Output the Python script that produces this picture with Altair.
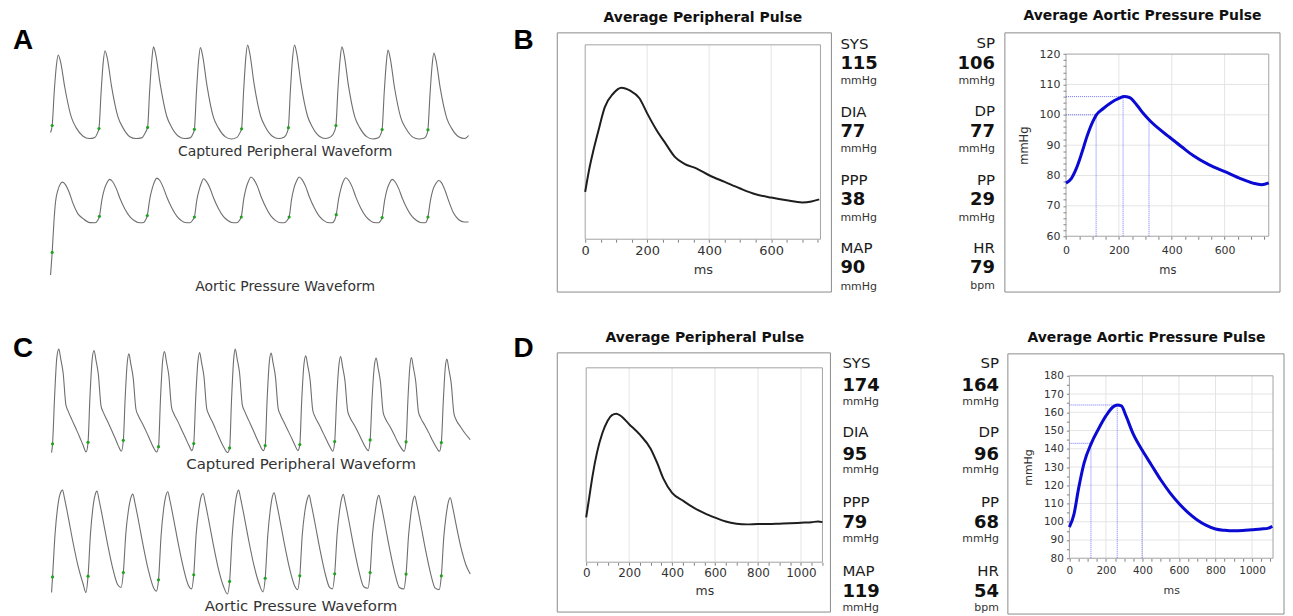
import altair as alt
import pandas as pd

W, H = 1277, 608
FONT = "DejaVu Sans"
GRID = "#e4e4e4"

# ---------------- data ----------------
# Panel A: captured peripheral waveform, (time ms, pressure mmHg)
A_PERIPHERAL = [
    (0, 79.6), (26, 82.5), (60, 97), (95, 108), (123, 112.2), (160, 109.5), (230, 98.5), (335, 86), (415, 81.5), (525, 78), (625, 77), (715, 77.5), (760, 79.5),
    (782, 81.2), (815, 96), (850, 109), (879, 114), (915, 111), (985, 99), (1090, 86), (1170, 81.5), (1280, 77.8), (1380, 77), (1470, 77.3), (1530, 79.5),
    (1567, 81.7), (1600, 97), (1635, 110), (1662, 115.6), (1698, 112.5), (1770, 100), (1875, 86.5), (1955, 81.8), (2065, 78), (2165, 77), (2255, 77.3), (2300, 79),
    (2323, 80.9), (2356, 96.5), (2391, 110), (2420, 115.3), (2455, 112), (2525, 99.5), (2630, 86), (2710, 81.5), (2820, 77.8), (2920, 76.8), (3010, 77.5), (3060, 79.5),
    (3085, 81.1), (3118, 97), (3153, 111), (3182, 116.4), (3217, 113), (3287, 100), (3392, 86.5), (3472, 81.8), (3582, 78), (3682, 77), (3772, 77.6), (3820, 79.5),
    (3841, 81.6), (3874, 97.5), (3909, 111), (3940, 116.4), (3975, 113), (4045, 100), (4150, 86.5), (4230, 81.8), (4340, 78), (4440, 77), (4530, 77.8), (4585, 80),
    (4609, 82.5), (4642, 98), (4677, 110.5), (4705, 115.6), (4740, 112.5), (4810, 99.5), (4915, 86), (4995, 81.5), (5105, 77.8), (5205, 76.8), (5295, 77.3), (5335, 79),
    (5355, 80.8), (5388, 96), (5423, 109), (5450, 114.3), (5485, 111), (5555, 98.5), (5660, 85.5), (5740, 81.2), (5850, 77.6), (5950, 76.8), (6040, 77.2), (6080, 79),
    (6095, 80.7), (6128, 95.5), (6163, 108), (6190, 113), (6225, 110), (6295, 98), (6400, 85.5), (6480, 81.2), (6590, 77.8), (6690, 77), (6751, 78.3),
]
A_PERIPHERAL_FEET = [(26, 82.5), (782, 81.2), (1567, 81.7), (2323, 80.9), (3085, 81.1),
                     (3841, 81.6), (4609, 82.5), (5355, 80.8), (6095, 80.7)]

# Panel A: aortic pressure waveform
A_AORTIC = [
    (0, 42.8), (26, 57.6), (55, 78), (80, 90.6), (120, 98.5), (160, 102.5), (193, 103.6), (240, 102), (300, 97), (364, 89.5), (440, 83), (525, 79.7), (634, 77.1), (720, 77), (760, 78.5),
    (789, 81.2), (829, 92), (869, 99), (909, 103), (955, 105.4), (1000, 104), (1060, 99.5), (1120, 93), (1200, 86), (1280, 81), (1350, 78.5), (1410, 77.2), (1490, 77), (1530, 78.5),
    (1562, 81.7), (1602, 92.5), (1642, 99.5), (1680, 104), (1716, 106.2), (1761, 104.8), (1821, 100), (1881, 93.5), (1961, 86.5), (2041, 81.2), (2111, 78.5), (2171, 77.2), (2251, 77), (2290, 78.5),
    (2323, 80.8), (2363, 92), (2403, 99), (2440, 103.5), (2468, 105.8), (2513, 104.3), (2573, 99.8), (2633, 93.2), (2713, 86.2), (2793, 81), (2863, 78.5), (2923, 77.2), (3003, 77), (3050, 78.5),
    (3080, 80.8), (3120, 92.5), (3160, 100), (3200, 104.5), (3236, 106.9), (3281, 105.4), (3341, 100.8), (3401, 94), (3481, 86.8), (3561, 81.3), (3631, 78.6), (3691, 77.2), (3771, 77), (3820, 78.5),
    (3853, 80.8), (3893, 92.5), (3933, 100), (3975, 104.5), (4014, 106.9), (4059, 105.4), (4119, 100.8), (4179, 94), (4259, 86.8), (4339, 81.3), (4409, 78.6), (4469, 77.2), (4549, 77), (4590, 78.8),
    (4614, 82.3), (4654, 93), (4694, 100), (4730, 104.3), (4766, 106.5), (4811, 105), (4871, 100.5), (4931, 93.8), (5011, 86.5), (5091, 81.2), (5161, 78.5), (5221, 77.2), (5301, 77), (5330, 78.3),
    (5355, 80.4), (5395, 91.5), (5435, 98.8), (5475, 103), (5516, 105.4), (5561, 104), (5621, 99.5), (5681, 93), (5761, 86), (5841, 81), (5911, 78.5), (5971, 77.2), (6051, 77), (6080, 78.5),
    (6095, 80.8), (6135, 91.5), (6175, 98.5), (6220, 102.5), (6268, 104.7), (6313, 103.3), (6373, 98), (6433, 91), (6513, 83), (6593, 79), (6680, 77.5), (6751, 77.5),
]
A_AORTIC_FEET = [(26, 57.6), (789, 81.2), (1562, 81.7), (2323, 80.8), (3080, 80.8),
                 (3853, 80.8), (4614, 82.3), (5355, 80.4), (6095, 80.8)]

# Panel C: captured peripheral waveform
C_PERIPHERAL = [
    (0, 95), (31, 101.9), (95, 139), (165, 170), (229, 176.9), (290, 169), (365, 158), (450, 133), (520, 128), (650, 120.5), (785, 113), (890, 107), (990, 101), (1090, 95.5),
    (1149, 103.1), (1210, 139.5), (1280, 169), (1338, 175.8), (1400, 168), (1473, 157), (1558, 132), (1628, 127), (1760, 120), (1895, 112.5), (2000, 106.5), (2100, 100.5), (2200, 96),
    (2261, 104.7), (2320, 139), (2385, 166.5), (2437, 173.2), (2497, 165), (2572, 154), (2657, 129.5), (2727, 124.5), (2860, 118), (2995, 111), (3100, 105), (3200, 99.5), (3310, 95.5),
    (3369, 99.7), (3430, 137), (3500, 168), (3558, 175), (3618, 167), (3693, 156), (3778, 131), (3848, 126), (3980, 119.5), (4115, 112), (4220, 106.5), (4320, 101), (4420, 96.5),
    (4478, 102.1), (4540, 138), (4610, 167), (4666, 174.2), (4726, 166), (4801, 155), (4886, 130), (4956, 125), (5090, 118), (5225, 110), (5330, 104), (5430, 99), (5548, 95),
    (5608, 98.7), (5670, 137.5), (5740, 170), (5787, 176.9), (5847, 169), (5922, 158), (6007, 133), (6077, 128), (6210, 120.5), (6345, 113), (6450, 107), (6550, 101.5), (6669, 96.5),
    (6729, 100.5), (6790, 137), (6860, 167), (6917, 173.8), (6977, 166), (7052, 155), (7137, 130), (7207, 125), (7340, 118), (7475, 111), (7580, 105.5), (7680, 100), (7760, 96.5),
    (7819, 101.3), (7880, 136.5), (7950, 165), (8007, 171.6), (8067, 164), (8142, 153), (8227, 128.5), (8297, 123.5), (8430, 117), (8565, 110), (8670, 104.5), (8770, 99.5), (8858, 96),
    (8918, 103.7), (8980, 137.5), (9050, 164), (9106, 171.1), (9166, 163), (9241, 152), (9326, 128), (9396, 123), (9530, 117), (9665, 110.5), (9770, 105), (9870, 100), (9975, 96.5),
    (10035, 105), (10095, 137.5), (10165, 163), (10224, 169.8), (10284, 162), (10359, 151), (10444, 127), (10514, 122), (10650, 116), (10785, 109.5), (10890, 104), (10990, 99.5), (11106, 96),
    (11166, 103.5), (11225, 137), (11285, 163), (11335, 170.3), (11395, 162.5), (11470, 151.5), (11555, 127.5), (11625, 122.5), (11760, 116.5), (11895, 110), (12000, 104.5), (12100, 100), (12217, 96),
    (12277, 102.9), (12340, 136), (12400, 162), (12453, 169), (12513, 161), (12588, 150), (12673, 126), (12743, 121), (12880, 115.5), (13015, 110.5), (13188, 105.3),
]
C_PERIPHERAL_FEET = [(31, 101.9), (1149, 103.1), (2261, 104.7), (3369, 99.7), (4478, 102.1), (5608, 98.7),
                     (6729, 100.5), (7819, 101.3), (8918, 103.7), (10035, 105), (11166, 103.5), (12277, 102.9)]

# Panel C: aortic pressure waveform
C_AORTIC = [
    (0, 95), (31, 105.7), (110, 135), (190, 153), (265, 162), (345, 164.9), (411, 159), (521, 147), (678, 129), (835, 113), (992, 101), (1080, 95),
    (1149, 106.2), (1225, 135), (1300, 152.5), (1370, 161.5), (1432, 164.2), (1498, 158), (1608, 146), (1765, 128), (1922, 112), (2079, 100.5), (2190, 98.5),
    (2261, 108.7), (2340, 135.5), (2420, 151), (2495, 159.5), (2562, 162.2), (2628, 156), (2738, 144), (2895, 126), (3052, 110), (3209, 98.5), (3300, 96),
    (3369, 103.7), (3450, 134), (3530, 152), (3600, 161), (3661, 163.8), (3727, 158), (3837, 146), (3994, 128), (4151, 112), (4308, 100), (4410, 97.5),
    (4478, 107.1), (4555, 135), (4635, 151), (4705, 160), (4773, 162.6), (4839, 156.5), (4949, 144.5), (5106, 126.5), (5263, 110.5), (5420, 99), (5540, 94),
    (5608, 102.6), (5690, 134), (5770, 153), (5835, 162), (5891, 164.9), (5957, 159), (6067, 147), (6224, 129), (6381, 113), (6538, 101), (6660, 95.5),
    (6729, 104.8), (6810, 134), (6890, 151.5), (6955, 160.5), (7012, 163.1), (7078, 157), (7188, 145), (7345, 127), (7502, 111), (7659, 99.5), (7750, 97),
    (7819, 106.4), (7895, 134), (7975, 150), (8050, 158.5), (8111, 161.5), (8177, 155.5), (8287, 143.5), (8444, 125.5), (8601, 109.5), (8758, 98.5), (8850, 97.5),
    (8918, 107.8), (8995, 135), (9070, 150.5), (9135, 159), (9188, 162), (9254, 156), (9364, 144), (9521, 126), (9678, 110), (9835, 99), (9965, 98),
    (10035, 108.7), (10110, 135), (10190, 149.5), (10255, 158.5), (10309, 161.3), (10375, 155.5), (10485, 143.5), (10642, 125.5), (10799, 109.5), (10956, 98.5), (11095, 97.5),
    (11166, 107.6), (11245, 134), (11320, 149), (11385, 158), (11439, 160.8), (11505, 155), (11615, 143), (11772, 125), (11929, 109), (12086, 98), (12210, 97),
    (12277, 106.4), (12355, 133), (12430, 148), (12500, 157), (12560, 159.7), (12626, 154), (12736, 142), (12893, 126), (13050, 114), (13188, 107.6),
]
C_AORTIC_FEET = [(31, 105.7), (1149, 106.2), (2261, 108.7), (3369, 103.7), (4478, 107.1), (5608, 102.6),
                 (6729, 104.8), (7819, 106.4), (8918, 107.8), (10035, 108.7), (11166, 107.6), (12277, 106.4)]

# Panel B: average pulses
B_PERIPH_T = [0, 13, 26, 42, 63, 90, 117, 145, 175, 200, 230, 260, 290, 320, 360, 400, 450, 500, 550, 600, 650, 700, 730, 755]
B_PERIPH_P = [80.5, 88, 94, 100.5, 108.5, 113, 115, 114, 111.5, 106.5, 101, 96.4, 92, 89.8, 88.2, 86, 83.8, 81.6, 79.7, 78.6, 77.7, 77, 77.3, 78]
B_AORTIC_T = [0, 20, 40, 60, 80, 100, 115, 140, 170, 200, 220, 240, 270, 292, 315, 350, 392, 440, 481, 540, 606, 660, 707, 740, 767]
B_AORTIC_P = [77.5, 79, 82.5, 87.5, 93, 97.5, 100, 102, 104, 105.4, 106, 105.7, 103, 100.5, 98.3, 95.5, 92.6, 89.3, 86.6, 83.6, 81.1, 79, 77.5, 77, 77.6]
B_MARK_X0 = [0, 0, 114, 216, 314]
B_MARK_X1 = [216, 114, 114, 216, 314]
B_MARK_Y0 = [106, 100, 60, 60, 60]
B_MARK_Y1 = [106, 100, 100, 106, 98.3]

# Panel D: average pulses
D_PERIPH_T = [0, 15, 30, 50, 75, 100, 120, 140, 160, 200, 250, 300, 330, 360, 400, 450, 500, 550, 600, 650, 700, 750, 800, 850, 900, 950, 1000, 1050, 1080, 1100]
D_PERIPH_P = [100, 115, 130, 146, 160, 169, 173, 174, 172.5, 166.5, 159, 149, 139, 127.5, 117.5, 112, 107, 103, 99.8, 97, 95.5, 95, 95.3, 95.2, 95.5, 95.8, 96.2, 96.6, 97, 96.6]
D_AORTIC_T = [0, 25, 50, 80, 120, 160, 200, 240, 262, 285, 310, 350, 400, 450, 500, 550, 600, 650, 700, 750, 800, 850, 900, 950, 1000, 1050, 1090, 1111]
D_AORTIC_P = [97, 104, 118, 132, 143, 151, 158, 163, 164, 163.5, 158, 148, 139, 131, 123, 116, 110, 105, 101, 98, 96, 95.3, 95, 95.2, 95.6, 96, 96.5, 97.5]
D_MARK_X0 = [0, 0, 118, 262, 398]
D_MARK_X1 = [262, 118, 118, 262, 398]
D_MARK_Y0 = [164, 143, 80, 80, 80]
D_MARK_Y1 = [164, 143, 143, 164, 139]

# numeric read-outs
B_PER_LABELS, B_PER_VALUES, B_PER_UNITS = ["SYS", "DIA", "PPP", "MAP"], ["115", "77", "38", "90"], ["mmHg"] * 4
B_AO_LABELS, B_AO_VALUES, B_AO_UNITS = ["SP", "DP", "PP", "HR"], ["106", "77", "29", "79"], ["mmHg", "mmHg", "mmHg", "bpm"]
D_PER_LABELS, D_PER_VALUES, D_PER_UNITS = ["SYS", "DIA", "PPP", "MAP"], ["174", "95", "79", "119"], ["mmHg"] * 4
D_AO_LABELS, D_AO_VALUES, D_AO_UNITS = ["SP", "DP", "PP", "HR"], ["164", "96", "68", "54"], ["mmHg", "mmHg", "mmHg", "bpm"]

ONE = pd.DataFrame({"k": [0]})


def sc(dom, rng):
    return alt.Scale(domain=dom, range=rng, nice=False, zero=False)


def text(t, x, y, size, weight="normal", align="left", baseline="middle", font=FONT, color="#111"):
    return alt.Chart(ONE).mark_text(text=t, fontSize=size, fontWeight=weight, align=align,
                                    baseline=baseline, font=font, color=color).encode(
        x=alt.value(x), y=alt.value(y))


def frame(x0, x1, y0, y1):
    return alt.Chart(ONE).mark_rect(fillOpacity=0, stroke="#8c8c8c", strokeWidth=1).encode(
        x=alt.value(x0), x2=alt.value(x1), y=alt.value(y0), y2=alt.value(y1))


def waveform(pairs, feet, xdom, xr, ydom, yr):
    line = alt.Chart(pd.DataFrame(pairs, columns=["t", "p"])).mark_line(
        color="#6e6e6e", strokeWidth=1.1, interpolate="monotone").encode(
        x=alt.X("t:Q", scale=sc(xdom, xr), axis=None),
        y=alt.Y("p:Q", scale=sc(ydom, yr), axis=None))
    dots = alt.Chart(pd.DataFrame(feet, columns=["t", "p"])).mark_circle(
        color="#1fa31f", size=10, opacity=1).encode(
        x=alt.X("t:Q", scale=sc(xdom, xr), axis=None),
        y=alt.Y("p:Q", scale=sc(ydom, yr), axis=None))
    return [line, dots]


def pulse(ts, ps, xdom, xr, ydom, yr, xgrid, xticks, xoff, lab_size, lab_pad, title_size, title_pad,
          color, width, ygrid=None, yticks=None, yoff=None, ylab_pad=3, ytitle_pad=8, marks=None):
    out = []
    gx = pd.DataFrame({"g": xgrid, "lo": [ydom[0]] * len(xgrid), "hi": [ydom[1]] * len(xgrid)})
    out.append(alt.Chart(gx).mark_rule(color=GRID, strokeWidth=1).encode(
        x=alt.X("g:Q", scale=sc(xdom, xr), axis=None),
        y=alt.Y("lo:Q", scale=sc(ydom, yr), axis=None), y2="hi"))
    if ygrid:
        gy = pd.DataFrame({"g": ygrid, "lo": [xdom[0]] * len(ygrid), "hi": [xdom[1]] * len(ygrid)})
        out.append(alt.Chart(gy).mark_rule(color=GRID, strokeWidth=1).encode(
            y=alt.Y("g:Q", scale=sc(ydom, yr), axis=None),
            x=alt.X("lo:Q", scale=sc(xdom, xr), axis=None), x2="hi"))
    border = pd.DataFrame({"x0": [xdom[0]], "x1": [xdom[1]], "y0": [ydom[0]], "y1": [ydom[1]]})
    out.append(alt.Chart(border).mark_rect(fillOpacity=0, stroke="#a3a3a3", strokeWidth=1).encode(
        x=alt.X("x0:Q", scale=sc(xdom, xr), axis=None), x2="x1",
        y=alt.Y("y0:Q", scale=sc(ydom, yr), axis=None), y2="y1"))
    if marks:
        mk = pd.DataFrame({"x0": marks[0], "x1": marks[1], "y0": marks[2], "y1": marks[3]})
        out.append(alt.Chart(mk).mark_rule(color="#5a5aff", strokeWidth=1, strokeDash=[1, 1], opacity=0.85).encode(
            x=alt.X("x0:Q", scale=sc(xdom, xr), axis=None), x2="x1",
            y=alt.Y("y0:Q", scale=sc(ydom, yr), axis=None), y2="y1"))
    xaxis = alt.Axis(orient="bottom", offset=xoff, values=xticks, format="d",
                     labelExpr="datum.value % 200 === 0 ? datum.label : ''",
                     labelOverlap=False, labelFlush=False, tickSize=3, tickColor="#808080",
                     domain=False, grid=False, labelFontSize=lab_size, labelColor="#333",
                     labelFont=FONT, labelPadding=lab_pad, title="ms", titleFontSize=title_size,
                     titleFontWeight="normal", titleColor="#333", titleFont=FONT, titlePadding=title_pad)
    if yticks:
        yaxis = alt.Axis(orient="left", offset=yoff, values=yticks, format="d",
                         labelExpr="datum.value % 10 === 0 ? datum.label : ''",
                         labelOverlap=False, tickSize=3, tickColor="#808080", domain=False, grid=False,
                         labelFontSize=lab_size, labelColor="#333", labelFont=FONT, labelPadding=ylab_pad,
                         title="mmHg", titleFontSize=title_size, titleFontWeight="normal", titleColor="#333",
                         titleFont=FONT, titlePadding=ytitle_pad)
        y = alt.Y("p:Q", scale=sc(ydom, yr), axis=yaxis)
    else:
        y = alt.Y("p:Q", scale=sc(ydom, yr), axis=None)
    out.append(alt.Chart(pd.DataFrame({"t": ts, "p": ps})).mark_line(
        color=color, strokeWidth=width, interpolate="monotone").encode(
        x=alt.X("t:Q", scale=sc(xdom, xr), axis=xaxis), y=y))
    return out


def stats(labels, values, units, x, align, ylab, yval, yunit):
    df = pd.DataFrame({"label": labels, "value": values, "unit": units, "i": list(range(len(labels)))})
    base = alt.Chart(df)

    def yy(r):
        return alt.Y("i:Q", scale=sc([0, len(labels) - 1], r), axis=None)

    return [
        base.mark_text(align=align, baseline="middle", fontSize=15, font=FONT, color="#1a1a1a").encode(
            x=alt.value(x), y=yy(ylab), text="label:N"),
        base.mark_text(align=align, baseline="middle", fontSize=18, fontWeight="bold", font=FONT, color="#111").encode(
            x=alt.value(x), y=yy(yval), text="value:N"),
        base.mark_text(align=align, baseline="middle", fontSize=11, font=FONT, color="#333").encode(
            x=alt.value(x), y=yy(yunit), text="unit:N"),
    ]


layers = []
# outer frames of the device read-outs
layers += [frame(551, 826, 24, 284), frame(1000, 1276, 24, 284),
           frame(551, 825, 345, 605), frame(1003, 1280, 346, 607)]

# waveforms A and C
layers += waveform(A_PERIPHERAL, A_PERIPHERAL_FEET, [0, 6751], [42.7, 462], [70, 120], [146.7, 27.6])
layers += waveform(A_AORTIC, A_AORTIC_FEET, [0, 6751], [42.7, 462], [40, 110], [271.2, 163.9])
layers += waveform(C_PERIPHERAL, C_PERIPHERAL_FEET, [0, 13188], [43.7, 463.7], [80, 190], [464, 324.7])
layers += waveform(C_AORTIC, C_AORTIC_FEET, [0, 13188], [43.7, 463.7], [80, 180], [607.5, 460.5])

# average pulses
layers += pulse(B_PERIPH_T, B_PERIPH_P, [0, 759], [579, 815], [64.8, 129.2], [231, 36],
                [200, 400, 600], list(range(0, 751, 50)), 231 - H, 13, 2, 13, 6, "#1e1e1e", 2)
layers += pulse(B_AORTIC_T, B_AORTIC_P, [0, 767], [1061.3, 1264.7], [60, 120], [228, 45.3],
                [200, 400, 600], list(range(0, 751, 50)), 228 - H, 11, 5, 11.5, 9, "#0a0ad2", 3,
                ygrid=[70, 80, 90, 100, 110], yticks=list(range(60, 121, 2)), yoff=-1061.3,
                ylab_pad=3, ytitle_pad=10, marks=(B_MARK_X0, B_MARK_X1, B_MARK_Y0, B_MARK_Y1))
layers += pulse(D_PERIPH_T, D_PERIPH_P, [0, 1100], [580, 817], [68, 206.7], [555, 360],
                [200, 400, 600, 800, 1000], list(range(0, 1101, 50)), 555 - H, 12, 2, 12.5, 6, "#1e1e1e", 2)
layers += pulse(D_AORTIC_T, D_AORTIC_P, [0, 1115], [1064.7, 1269], [80, 180], [551, 368],
                [200, 400, 600, 800, 1000], list(range(0, 1101, 50)), 551 - H, 10.5, 4, 11, 9, "#0a0ad2", 3,
                ygrid=[90, 100, 110, 120, 130, 140, 150, 160, 170], yticks=list(range(80, 181, 5)), yoff=-1064.7,
                ylab_pad=3, ytitle_pad=10, marks=(D_MARK_X0, D_MARK_X1, D_MARK_Y0, D_MARK_Y1))

# read-outs
layers += stats(B_PER_LABELS, B_PER_VALUES, B_PER_UNITS, 835, "left", [35, 240], [55, 260], [72, 279])
layers += stats(B_AO_LABELS, B_AO_VALUES, B_AO_UNITS, 990, "right", [34, 240], [55, 260], [72, 278])
layers += stats(D_PER_LABELS, D_PER_VALUES, D_PER_UNITS, 837, "left", [355, 564], [378, 585], [394, 601])
layers += stats(D_AO_LABELS, D_AO_VALUES, D_AO_UNITS, 994, "right", [355, 564], [378, 585], [394, 601])

# titles and captions
layers += [
    text("Average Peripheral Pulse", 697, 9, 14, "bold", "center"),
    text("Average Aortic Pressure Pulse", 1138, 7, 14, "bold", "center"),
    text("Average Peripheral Pulse", 699, 330, 14, "bold", "center"),
    text("Average Aortic Pressure Pulse", 1142, 330, 14, "bold", "center"),
    text("Captured Peripheral Waveform", 278, 144, 14, "normal", "center", color="#333"),
    text("Aortic Pressure Waveform", 278, 279, 14, "normal", "center", color="#333"),
    text("Captured Peripheral Waveform", 294, 456, 15, "normal", "center", color="#333"),
    text("Aortic Pressure Waveform", 294, 599, 15, "normal", "center", color="#333"),
    text("A", 5, 40, 28, "bold", "left", "alphabetic", "Liberation Sans", "#000"),
    text("B", 507, 40, 28, "bold", "left", "alphabetic", "Liberation Sans", "#000"),
    text("C", 5, 349, 28, "bold", "left", "alphabetic", "Liberation Sans", "#000"),
    text("D", 507, 349, 28, "bold", "left", "alphabetic", "Liberation Sans", "#000"),
]

chart = (
    alt.layer(*layers)
    .resolve_scale(x="independent", y="independent")
    .resolve_axis(x="independent", y="independent")
    .properties(width=W, height=H, padding=0, background="white")
    .configure_view(stroke="transparent")
)

chart.save("out.html", embed_options={"renderer": "svg", "actions": False})
